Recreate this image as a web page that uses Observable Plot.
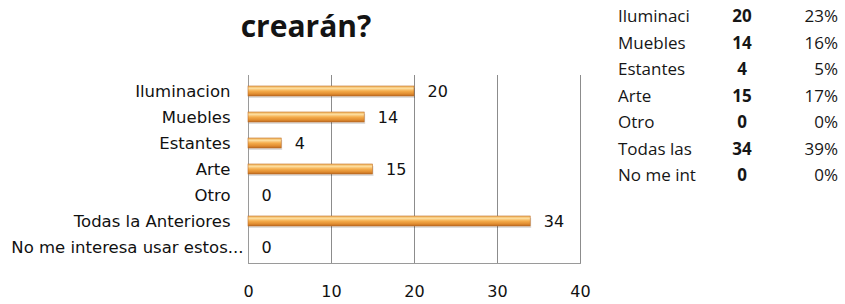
<!DOCTYPE html>
<html>
<head>
<meta charset="utf-8">
<script src="https://cdn.jsdelivr.net/npm/d3@7"></script>
<script src="https://cdn.jsdelivr.net/npm/@observablehq/plot@0.6"></script>
<style>
  html, body { margin: 0; padding: 0; background: #fff; }
  #wrap { position: relative; width: 845px; height: 304px; overflow: hidden; background: #fff; }
  #chart { position: absolute; left: 0; top: 0; }
  #title { position: absolute; left: 206px; width: 200px; top: 6px; text-align: center;
           font-family: "Open Sans", sans-serif; font-weight: 700; font-size: 30px; color: #141414; line-height: 40px; }
  #tbl { position: absolute; left: 618px; top: 3px; border-collapse: collapse;
         font-family: "Open Sans", sans-serif; font-size: 17px; color: #161616; }
  #tbl td { height: 26.5px; padding: 0; line-height: 26.5px; white-space: nowrap; }
  #tbl td.l { width: 100px; text-align: left; }
  #tbl td.v { width: 48px; text-align: center; font-weight: 700; }
  #tbl td.p { width: 72px; text-align: right; }
</style>
</head>
<body>
<div id="wrap">
  <div id="chart"></div>
  <div id="title">crearán?</div>
  <table id="tbl"></table>
</div>
<script>
const categories = ["Iluminacion", "Muebles", "Estantes", "Arte", "Otro", "Todas la Anteriores", "No me interesa usar estos..."];
const values = [20, 14, 4, 15, 0, 34, 0];
const xTicks = [0, 10, 20, 30, 40];
const tableLabels = ["Iluminaci", "Muebles", "Estantes", "Arte", "Otro", "Todas las", "No me int"];
const tableValues = [20, 14, 4, 15, 0, 34, 0];
const tablePercents = ["23%", "16%", "5%", "17%", "0%", "39%", "0%"];

const data = categories.map((c, i) => ({cat: c, value: values[i]}));
const lastCat = categories[categories.length - 1];

const chart = Plot.plot({
  width: 600,
  height: 304,
  marginLeft: 248,
  marginRight: 20,
  marginTop: 75,
  marginBottom: 41,
  style: {fontFamily: "DejaVu Sans, sans-serif", fontSize: "16px", color: "#111", background: "transparent"},
  x: {domain: [0, 40]},
  y: {domain: categories, paddingInner: 0.6, paddingOuter: 0.3},
  marks: [
    Plot.gridX({ticks: xTicks.slice(1), stroke: "#8c8c8c", strokeOpacity: 1, strokeWidth: 1}),
    Plot.ruleX([0], {stroke: "#9a9a9a", strokeWidth: 1}),
    Plot.frame({anchor: "bottom", stroke: "#9a9a9a"}),
    Plot.barX(data, {x: "value", y: "cat", fill: "#000", fillOpacity: 0.13, dy: 2, dx: 1}),
    Plot.barX(data, {x: "value", y: "cat", fill: "url(#barGrad)", stroke: "#c07028", strokeWidth: 0.6}),
    Plot.text(data, {x: "value", y: "cat", text: d => String(d.value), textAnchor: "start", dx: 13, fill: "#111", fontSize: 16}),
    Plot.axisY({ticks: categories.slice(0, -1), tickSize: 0, tickPadding: 18, label: null, fontSize: 16.5}),
    Plot.axisY({ticks: [lastCat], tickSize: 0, tickPadding: 5, label: null, fontSize: 16.5}),
    Plot.axisX({ticks: xTicks, tickSize: 0, tickPadding: 22, label: null, fontSize: 16})
  ]
});

// gradient definition for the cylindrical bar look
const svgNS = "http://www.w3.org/2000/svg";
const defs = document.createElementNS(svgNS, "defs");
defs.innerHTML = `<linearGradient id="barGrad" x1="0" y1="0" x2="0" y2="1">
  <stop offset="0" stop-color="#f2b45a"/>
  <stop offset="0.25" stop-color="#fcdc9c"/>
  <stop offset="0.5" stop-color="#f5ad4c"/>
  <stop offset="0.8" stop-color="#e08c30"/>
  <stop offset="1" stop-color="#b8661c"/>
</linearGradient>`;
chart.insertBefore(defs, chart.firstChild);
document.getElementById("chart").appendChild(chart);

const tbl = document.getElementById("tbl");
tableLabels.forEach((l, i) => {
  const tr = document.createElement("tr");
  tr.innerHTML = `<td class="l">${l}</td><td class="v">${tableValues[i]}</td><td class="p">${tablePercents[i]}</td>`;
  tbl.appendChild(tr);
});
</script>
</body>
</html>
